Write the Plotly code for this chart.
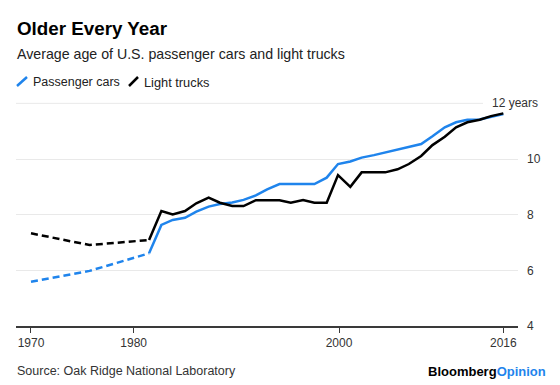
import plotly.graph_objects as go

# ---- data ----
early_years = [1970, 1975.7, 1981.5]
cars_early = [5.59, 5.98, 6.61]
trucks_early = [7.33, 6.91, 7.09]

years = [1981.5, 1982.7, 1983.8, 1985.0, 1986.1, 1987.3, 1988.4, 1989.6, 1990.7, 1991.9,
         1993.0, 1994.2, 1995.3, 1996.5, 1997.6, 1998.8, 1999.9, 2001.1, 2002.2, 2003.4,
         2004.5, 2005.7, 2006.8, 2008.0, 2009.1, 2010.3, 2011.4, 2012.5, 2013.7, 2014.8, 2016.0]
cars = [6.61, 7.63, 7.81, 7.89, 8.11, 8.29, 8.38, 8.44, 8.53, 8.69,
        8.91, 9.10, 9.10, 9.10, 9.10, 9.33, 9.82, 9.91, 10.05, 10.14,
        10.24, 10.35, 10.44, 10.54, 10.82, 11.14, 11.32, 11.41, 11.42, 11.52, 11.62]
trucks = [7.09, 8.13, 8.01, 8.13, 8.41, 8.61, 8.43, 8.31, 8.31, 8.52,
          8.52, 8.52, 8.43, 8.53, 8.43, 8.43, 9.42, 9.00, 9.52, 9.52,
          9.52, 9.63, 9.82, 10.11, 10.50, 10.80, 11.14, 11.32, 11.41, 11.54, 11.64]

x_ticks = [1970, 1980, 2000, 2016]
y_ticks = [4, 6, 8, 10]
top_label = "12 years"

BLUE = "#1f84ec"
BLACK = "#000000"
FONT = "Liberation Sans, Arial, Helvetica, sans-serif"

fig = go.Figure()
fig.add_trace(go.Scatter(x=early_years, y=cars_early, mode="lines",
                         line=dict(color=BLUE, width=2.5, dash="7px,4px"), hoverinfo="skip"))
fig.add_trace(go.Scatter(x=years, y=cars, mode="lines",
                         line=dict(color=BLUE, width=2.5), hoverinfo="skip"))
fig.add_trace(go.Scatter(x=early_years, y=trucks_early, mode="lines",
                         line=dict(color=BLACK, width=2.5, dash="7px,4px"), hoverinfo="skip"))
fig.add_trace(go.Scatter(x=years, y=trucks, mode="lines",
                         line=dict(color=BLACK, width=2.5), hoverinfo="skip"))

W, H = 560, 385
L, R, T, B = 16, 42, 95, 59
pw, ph = W - L - R, H - T - B


def px(x):
    return (x - L) / pw


def py(y):
    return (H - B - y) / ph


fig.update_layout(
    width=W, height=H,
    margin=dict(l=L, r=R, t=T, b=B),
    paper_bgcolor="white", plot_bgcolor="white",
    showlegend=False,
    font=dict(family=FONT, color="#333333", size=12),
    xaxis=dict(range=[1968.54, 2017.43], tickvals=x_ticks, ticktext=[str(v) for v in x_ticks],
               showgrid=False, zeroline=False, showline=True, linecolor="#3a3a3a", linewidth=1.5,
               ticks="outside", ticklen=5, tickwidth=1, tickcolor="#3a3a3a",
               tickfont=dict(size=12, color="#333333"), fixedrange=True),
    yaxis=dict(range=[4, 12.3], tickvals=y_ticks, ticktext=[str(v) for v in y_ticks],
               side="right", showgrid=True, gridcolor="#e9e9e9", gridwidth=1,
               zeroline=False, showline=False, ticks="", ticklabelstandoff=8,
               tickfont=dict(size=12, color="#333333"), fixedrange=True),
    shapes=[
        dict(type="line", xref="paper", yref="y", x0=0, x1=px(483), y0=12, y1=12,
             line=dict(color="#e9e9e9", width=1), layer="below"),
        dict(type="line", xref="paper", yref="paper", x0=px(17), x1=px(27), y0=py(86), y1=py(77),
             line=dict(color=BLUE, width=2.5)),
        dict(type="line", xref="paper", yref="paper", x0=px(129), x1=px(138), y0=py(86), y1=py(77),
             line=dict(color=BLACK, width=2.5)),
    ],
    annotations=[
        dict(text="<b>Older Every Year</b>", xref="paper", yref="paper", x=px(15), y=py(29),
             xanchor="left", yanchor="middle", showarrow=False,
             font=dict(size=18.8, color="#000000", family=FONT)),
        dict(text="Average age of U.S. passenger cars and light trucks", xref="paper", yref="paper",
             x=px(15), y=py(54), xanchor="left", yanchor="middle", showarrow=False,
             font=dict(size=14.2, color="#222222", family=FONT)),
        dict(text="Passenger cars", xref="paper", yref="paper", x=px(31), y=py(82),
             xanchor="left", yanchor="middle", showarrow=False,
             font=dict(size=12.5, color="#222222", family=FONT)),
        dict(text="Light trucks", xref="paper", yref="paper", x=px(142), y=py(82),
             xanchor="left", yanchor="middle", showarrow=False,
             font=dict(size=12.8, color="#222222", family=FONT)),
        dict(text=top_label, xref="paper", yref="y", x=px(540), y=12,
             xanchor="right", yanchor="middle", showarrow=False,
             font=dict(size=12, color="#333333", family=FONT)),
        dict(text="Source: Oak Ridge National Laboratory", xref="paper", yref="paper",
             x=px(15), y=py(371), xanchor="left", yanchor="middle", showarrow=False,
             font=dict(size=12.5, color="#333333", family=FONT)),
        dict(text="<b>Bloomberg<span style='color:" + BLUE + "'>Opinion</span></b>",
             xref="paper", yref="paper", x=px(548), y=py(371), xanchor="right", yanchor="middle",
             showarrow=False, font=dict(size=13, color="#000000", family=FONT)),
    ],
)

fig.write_html("out.html", config={"displayModeBar": False},
               post_script="document.body.style.margin='0';")
